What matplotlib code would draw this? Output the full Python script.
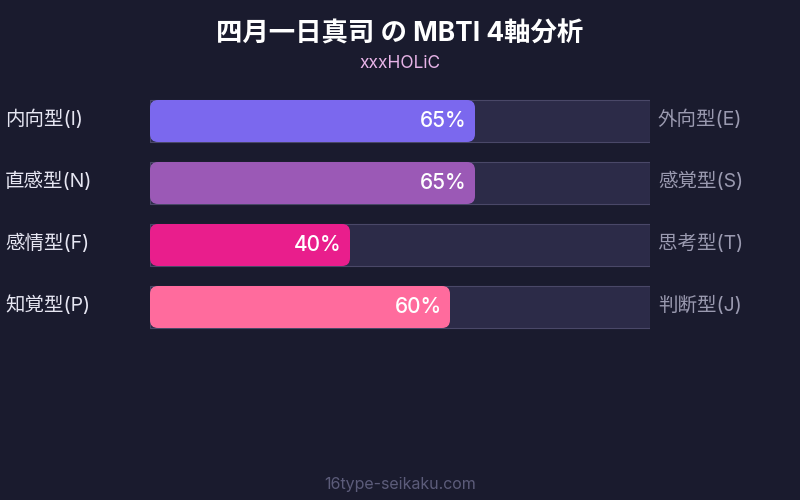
import matplotlib
matplotlib.use("Agg")
import matplotlib.pyplot as plt
from matplotlib.patches import FancyBboxPatch

plt.rcParams['font.family'] = ['Inter', 'Noto Sans CJK JP', 'DejaVu Sans']

title = "四月一日真司 の MBTI 4軸分析"
subtitle = "xxxHOLiC"
left_labels = ["内向型(I)", "直感型(N)", "感情型(F)", "知覚型(P)"]
right_labels = ["外向型(E)", "感覚型(S)", "思考型(T)", "判断型(J)"]
values = [65, 65, 40, 60]
colors = ["#7b68ee", "#9b59b6", "#e91e8c", "#ff6b9d"]
footer = "16type-seikaku.com"

bg = "#1a1b2e"
fig = plt.figure(figsize=(8, 5), dpi=100, facecolor=bg)

# bar area: track spans x 150-650 px, rows centred 121..307 px
ax = fig.add_axes([150 / 800, 1 - 338 / 500, 500 / 800, 248 / 500])
ax.set_facecolor(bg)
ax.set_xlim(0, 100)
ax.set_ylim(len(values) - 0.5, -0.5)
ax.axis("off")

bar_h = 42 / 62
px_x = 100 / 500     # data units per pixel (x)
px_y = 1 / 62        # data units per pixel (y)
radius = 8 * px_x

for i, v in enumerate(values):
    ax.barh(i, 100, height=bar_h, color="#2c2b48", edgecolor="#4a4868", linewidth=0.8)
    fill = FancyBboxPatch((0, i - bar_h / 2), v, bar_h,
                          boxstyle="round,pad=0,rounding_size=%f" % radius,
                          mutation_aspect=px_y / px_x,
                          facecolor=colors[i], edgecolor="none", zorder=3)
    ax.add_patch(fill)
    ax.text(v - 8 * px_x, i, f"{v}%", ha="right", va="center",
            color="white", fontsize=15, fontweight="medium", zorder=4)
    ax.text(-145 * px_x, i - 2 * px_y, left_labels[i], ha="left", va="center",
            color="#e6e6f2", fontsize=14, zorder=4, clip_on=False)
    ax.text(100 + 8 * px_x, i - 2 * px_y, right_labels[i], ha="left", va="center",
            color="#9a9ab0", fontsize=14, zorder=4, clip_on=False)

fig.text(0.5, 1 - 35 / 500, title, ha="center", va="center",
         color="white", fontsize=19, fontweight="bold")
fig.text(0.5, 1 - 64 / 500, subtitle, ha="center", va="center",
         color="#e8b4e8", fontsize=12.5)
fig.text(0.5, 1 - 484 / 500, footer, ha="center", va="center",
         color="#5c5c7a", fontsize=11.5)

fig.savefig("out.png", dpi=100, facecolor=bg)
